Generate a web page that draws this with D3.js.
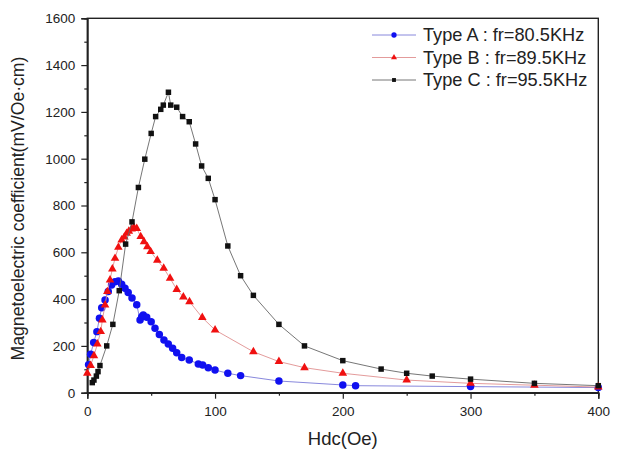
<!DOCTYPE html>
<html>
<head>
<meta charset="utf-8">
<script src="https://cdn.jsdelivr.net/npm/d3@7"></script>
<style>
  body { margin: 0; background: #fff; }
  text { font-family: "Liberation Sans", Arial, sans-serif; fill: #222; }
</style>
</head>
<body>
<div class="container"></div>
<script>
// data: Hdc (Oe) vs ME coefficient (mV/Oe.cm)
const hdcA = [1, 2.6, 5, 7.5, 9.5, 11.3, 13.9, 16.4, 19, 21.7, 24.3, 26.9, 29.5, 32, 35, 38.7, 41.3, 42.6, 43.8, 46.5, 50, 53, 56.4, 60, 63.4, 66.8, 70, 73.9, 79.8, 86.9, 90.3, 94.7, 100, 110, 120, 150, 200, 210, 300, 400];
const meA  = [120, 164, 215, 261, 318, 363, 396, 432, 460, 474, 477, 463, 446, 428, 405, 376, 311, 325, 332, 322, 303, 275, 249, 225, 208, 190, 171, 150, 140, 123, 118, 107, 97, 83, 73, 50, 33, 30, 26, 22];

const hdcB = [0, 2.6, 5.2, 7.9, 10.5, 11.8, 13.9, 15.7, 17.8, 19.6, 21.7, 24.3, 26.9, 29, 30.8, 32.5, 34.7, 36.5, 38.7, 41.8, 44.4, 47, 49.6, 54.8, 59.8, 64.8, 70, 75.2, 80, 90, 100, 130, 150, 170, 200, 250, 300, 350, 400];
const meB  = [83, 116, 158, 208, 261, 311, 375, 432, 482, 529, 574, 621, 653, 665, 681, 690, 700, 706, 702, 667, 645, 624, 603, 566, 532, 489, 441, 409, 389, 321, 268, 175, 133, 107, 83, 54, 40, 32, 24];

const hdcC = [3.9, 5.2, 7.1, 8.4, 9.9, 15.2, 20, 25, 30, 35, 40, 45, 50, 53.5, 57.5, 59.5, 63.5, 65.3, 70, 74.6, 79.8, 84.8, 89.5, 94.7, 100, 110, 120, 130, 150, 170, 200, 230, 250, 270, 300, 350, 400];
const meC  = [43, 54, 71, 90, 116, 200, 292, 436, 635, 730, 877, 998, 1108, 1180, 1211, 1229, 1284, 1229, 1220, 1180, 1158, 1063, 969, 916, 825, 627, 500, 416, 292, 200, 137, 101, 83, 71, 58, 40, 30];

const seriesNames = ['Type A : fr=80.5KHz', 'Type B : fr=89.5KHz', 'Type C : fr=95.5KHz'];
const xTicks = [0, 100, 200, 300, 400];
const xMinor = [50, 150, 250, 350];
const yTicks = [0, 200, 400, 600, 800, 1000, 1200, 1400, 1600];
const yMinor = [100, 300, 500, 700, 900, 1100, 1300, 1500];

const W = 622, H = 455;
const svg = d3.select('.container')
  .append('svg')
  .attr('width', W)
  .attr('height', H);

const x = d3.scaleLinear().domain([0, 400]).range([87.3, 598.3]);
const y = d3.scaleLinear().domain([0, 1600]).range([392.7, 18.3]);

// frame
svg.append('rect')
  .attr('x', x(0)).attr('y', y(1600))
  .attr('width', x(400) - x(0)).attr('height', y(0) - y(1600))
  .attr('fill', 'none').attr('stroke', '#222').attr('stroke-width', 1.4);

// axes
svg.append('g').attr('transform', `translate(0,${y(0)})`)
  .call(d3.axisBottom(x).tickValues(xTicks).tickSize(6).tickPadding(8).tickFormat(d3.format('d')));
svg.append('g').attr('transform', `translate(0,${y(0)})`)
  .call(d3.axisBottom(x).tickValues(xMinor).tickSize(3).tickFormat(''));
svg.append('g').attr('transform', `translate(${x(0)},0)`)
  .call(d3.axisLeft(y).tickValues(yTicks).tickSize(6).tickPadding(6).tickFormat(d3.format('d')));
svg.append('g').attr('transform', `translate(${x(0)},0)`)
  .call(d3.axisLeft(y).tickValues(yMinor).tickSize(3).tickFormat(''));

svg.selectAll('.domain').attr('stroke', '#222').attr('stroke-width', 1.4);
svg.selectAll('.tick line').attr('stroke', '#222').attr('stroke-width', 1.2);
svg.selectAll('.tick text')
  .attr('font-family', '"Liberation Sans", Arial, sans-serif')
  .attr('font-size', 13.5).attr('fill', '#222');

// axis titles
svg.append('text')
  .attr('x', (x(0) + x(400)) / 2).attr('y', 445)
  .attr('text-anchor', 'middle').attr('font-size', 18.5)
  .text('Hdc(Oe)');
svg.append('text')
  .attr('transform', 'translate(24,208.5) rotate(-90)')
  .attr('text-anchor', 'middle').attr('font-size', 17.6)
  .text('Magnetoelectric coefficient(mV/Oe·cm)');

// series
const series = [
  {hdc: hdcA, me: meA, color: '#1010f0', line: '#7a7ad8', sym: d3.symbolCircle, size: 44},
  {hdc: hdcB, me: meB, color: '#f01010', line: '#e09090', sym: d3.symbolTriangle, size: 32},
  {hdc: hdcC, me: meC, color: '#111', line: '#666', sym: d3.symbolSquare, size: 30}
];

const line = d3.line().x(d => x(d[0])).y(d => y(d[1]));

series.forEach(function(s){
  const pts = s.hdc.map((h, i) => [h, s.me[i]]);
  svg.append('path')
    .attr('d', line(pts))
    .attr('fill', 'none')
    .attr('stroke', s.line)
    .attr('stroke-width', 0.9);
  svg.append('g').selectAll('path')
    .data(pts)
    .join('path')
    .attr('transform', d => `translate(${x(d[0])},${y(d[1])})`)
    .attr('d', d3.symbol().type(s.sym).size(s.size))
    .attr('fill', s.color);
});

// legend
const lg = svg.append('g');
series.forEach(function(s, i){
  const cy = 35 + i * 22.5;
  lg.append('line')
    .attr('x1', 372).attr('x2', 416).attr('y1', cy).attr('y2', cy)
    .attr('stroke', s.line).attr('stroke-width', 0.9);
  lg.append('path')
    .attr('transform', `translate(394,${cy})`)
    .attr('d', d3.symbol().type(s.sym).size(s.size * 0.5))
    .attr('fill', s.color);
  lg.append('text')
    .attr('x', 423).attr('y', cy + 6)
    .attr('font-size', 18.2)
    .text(seriesNames[i]);
});
</script>
</body>
</html>
